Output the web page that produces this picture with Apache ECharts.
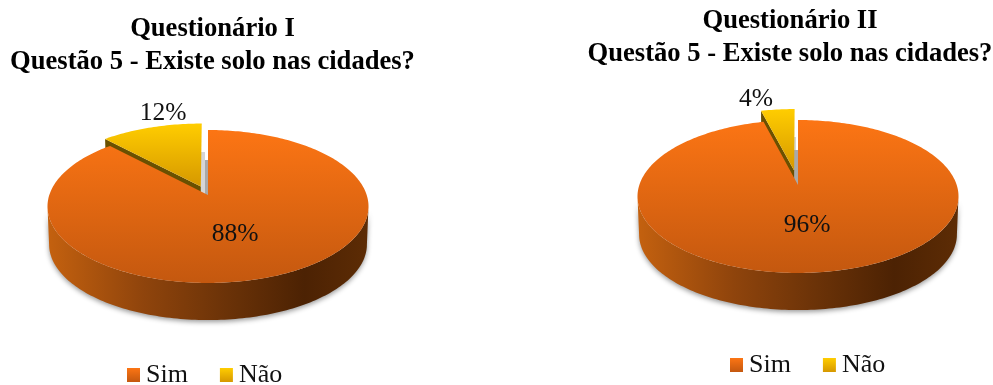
<!DOCTYPE html>
<html>
<head>
<meta charset="utf-8">
<style>html,body{margin:0;padding:0;background:#fff}#c{width:993px;height:385px}</style>
<script src="https://cdn.jsdelivr.net/npm/echarts@6/dist/echarts.min.js"></script>
</head>
<body>
<div id="c"></div>
<script>
// Answers to question 5, in percent
const categories = ['Sim', 'Não'];
const questionarioI = [88, 12];
const questionarioII = [96, 4];
const titleI = 'Questionário I\nQuestão 5 - Existe solo nas cidades?';
const titleII = 'Questionário II\nQuestão 5 - Existe solo nas cidades?';

const SERIF = '"Liberation Serif","Times New Roman",serif';
const vGrad = (a, b) => new echarts.graphic.LinearGradient(0, 0, 0, 1, [
  { offset: 0, color: a }, { offset: 1, color: b }
]);
const simFill = () => vGrad('#fc7514', '#c4580f');
const naoFill = () => vGrad('#ffcd00', '#d69800');
const wallFill = () => new echarts.graphic.LinearGradient(0, 0, 1, 0, [
  { offset: 0, color: '#c4610f' },
  { offset: 0.3, color: '#8f440c' },
  { offset: 0.55, color: '#6c3308' },
  { offset: 0.8, color: '#4c2203' },
  { offset: 1, color: '#5d2c05' }
]);

// Layout of each tilted pie: the disc is a circle seen through a perspective,
// so its hub sits above the middle of the drawn ellipse.
const frameI = {
  cx: 208, hubY: 195, a: 158.7, b: 74.75, p: 0.15, depth: 38, explode: 0.125,
  labels: [[235, 234], [163, 113]], stripA: [-7, -43, 4], stripB: [-3, -35, 3]
};
const frameII = {
  cx: 798, hubY: 185, a: 158.7, b: 74.75, p: 0.15, depth: 38, explode: 0.2,
  labels: [[807, 225], [756, 99]], stripA: [-4, -48, 2], stripB: [-4, -35, 4]
};

function projector(f) {
  return (theta, r, ox, oy, drop) => {
    const x = r * Math.sin(theta) + ox;
    const y = r * Math.cos(theta) + oy;
    const s = 1 / (1 + f.p * y);
    const shrink = drop ? 0.99 : 1;
    return [f.cx + f.a * x * s * shrink, f.hubY - f.b * y * s * shrink + (drop || 0)];
  };
}

function arcPoints(project, from, to, ox, oy, drop) {
  const n = Math.max(2, Math.ceil(Math.abs(to - from) / 0.02));
  const pts = [];
  for (let i = 0; i <= n; i++) pts.push(project(from + (to - from) * i / n, 1, ox, oy, drop));
  return pts;
}

function poly(points, fill, extra) {
  return { type: 'polygon', shape: { points }, style: Object.assign({ fill }, extra || {}) };
}

function labelEl(text, pos) {
  return {
    type: 'text', z2: 50,
    style: { text, x: pos[0], y: pos[1], fill: '#111', font: '25.5px ' + SERIF, align: 'center', verticalAlign: 'middle' }
  };
}

// Slices run clockwise from twelve o'clock; the slice with index 1 is pulled out.
function sliceRenderer(values, f, index) {
  const total = values.reduce((s, v) => s + v, 0);
  return (params, api) => {
    const project = projector(f);
    const start = values.slice(0, index).reduce((s, v) => s + v, 0) / total * 2 * Math.PI;
    const end = start + api.value(1) / total * 2 * Math.PI;
    const label = labelEl(api.value(1) + '%', f.labels[index]);
    if (index === 0) {
      // Front wall between the two silhouette points, then the top face
      const edge = Math.acos(-f.p);
      const wall = arcPoints(project, edge, 2 * Math.PI - edge, 0, 0, 0)
        .concat(arcPoints(project, 2 * Math.PI - edge, edge, 0, 0, f.depth));
      const face = [project(0, 0, 0, 0, 0)].concat(arcPoints(project, start, end, 0, 0, 0));
      return {
        type: 'group',
        children: [
          poly(wall, wallFill(), { shadowBlur: 5, shadowColor: 'rgba(0,0,0,0.4)', shadowOffsetY: 2 }),
          poly(face, simFill()),
          label
        ]
      };
    }
    const mid = (start + end) / 2;
    const ox = Math.sin(mid) * f.explode;
    const oy = Math.cos(mid) * f.explode;
    const hub = project(0, 0, ox, oy, 0);
    const rim = project(start, 1, ox, oy, 0);
    const face = [hub].concat(arcPoints(project, start, end, ox, oy, 0));
    const cut = [hub, rim, project(start, 1, ox, oy, f.depth), project(0, 0, ox, oy, f.depth)];
    const strip = (s, fill) => {
      const x0 = f.cx + s[0];
      return poly([[x0, f.hubY + s[1]], [x0 + s[2], f.hubY + s[1]], [x0 + s[2], f.hubY], [x0, f.hubY]], fill);
    };
    return {
      type: 'group',
      children: [
        strip(f.stripA, '#d6d6d6'),
        strip(f.stripB, '#a9a9a9'),
        poly(cut, '#6a5000'),
        poly(face, naoFill()),
        label
      ]
    };
  };
}

function pieSeries(values, f) {
  // Não goes first so the main disc overlaps the pulled-out slice's cut wall
  return [1, 0].map(i => ({
    type: 'custom',
    name: categories[i],
    coordinateSystem: 'none',
    silent: true,
    animation: false,
    clip: false,
    z: i === 1 ? 2 : 3,
    itemStyle: { color: i === 0 ? simFill() : naoFill() },
    data: [[i, values[i]]],
    renderItem: sliceRenderer(values, f, i)
  }));
}

function legendAt(left, top) {
  return {
    left, top, orient: 'horizontal', icon: 'rect',
    itemWidth: 13, itemHeight: 14, itemGap: 32, selectedMode: false,
    data: categories,
    textStyle: { fontFamily: SERIF, fontSize: 26, color: '#111', padding: [2, 0, 0, 1] }
  };
}

function titleAt(text, left, top) {
  return {
    text, left, top, textAlign: 'center',
    textStyle: { fontFamily: SERIF, fontSize: 26.6, fontWeight: 'bold', color: '#000', lineHeight: 33 }
  };
}

const chart = echarts.init(document.getElementById('c'), null, { renderer: 'canvas' });
chart.setOption({
  backgroundColor: '#fff',
  animation: false,
  title: [titleAt(titleI, 207.5, 8), titleAt(titleII, 785, 0)],
  legend: [legendAt(122, 357), legendAt(725, 347)],
  series: pieSeries(questionarioI, frameI).concat(pieSeries(questionarioII, frameII))
});
</script>
</body>
</html>
